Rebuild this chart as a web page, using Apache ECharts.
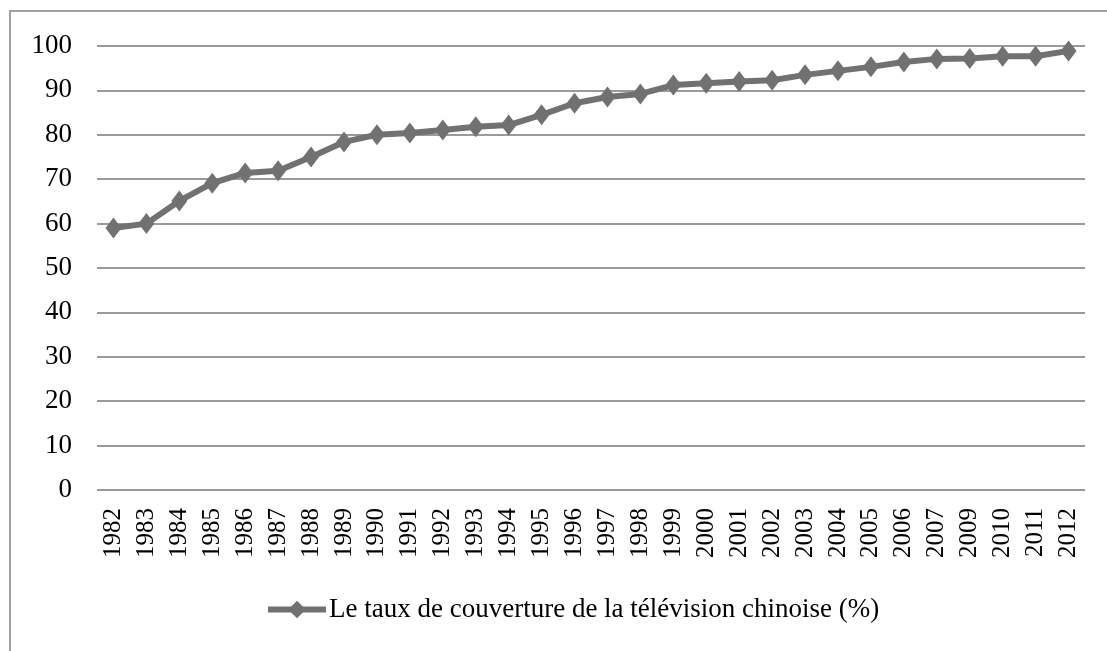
<!DOCTYPE html>
<html>
<head>
<meta charset="utf-8">
<script src="https://cdn.jsdelivr.net/npm/echarts@6/dist/echarts.min.js"></script>
<style>
  html, body { margin: 0; padding: 0; background: #fff; }
  #chart { width: 1107px; height: 651px; }
</style>
</head>
<body>
<div id="chart"></div>
<script>
  // years (2008 is missing in the source table)
  const years = ['1982', '1983', '1984', '1985', '1986', '1987', '1988', '1989', '1990', '1991',
    '1992', '1993', '1994', '1995', '1996', '1997', '1998', '1999', '2000', '2001',
    '2002', '2003', '2004', '2005', '2006', '2007', '2009', '2010', '2011', '2012']

  const coverage = [59.0, 60.0, 65.1, 69.1, 71.4, 71.9, 75.0, 78.4, 80.0, 80.4,
    81.1, 81.8, 82.2, 84.5, 87.1, 88.5, 89.2, 91.2, 91.6, 92.0,
    92.3, 93.5, 94.4, 95.3, 96.4, 97.1, 97.2, 97.7, 97.7, 98.9]

  const seriesName = 'Le taux de couverture de la télévision chinoise (%)'

  const serif = '"Liberation Serif", "DejaVu Serif", serif'

  let chart = echarts.init(document.getElementById('chart'))

  chart.setOption({
    animation: false,
    textStyle: {fontFamily: serif},
    graphic: [
      {
        type: 'polyline',
        shape: {points: [[10, 660], [10, 11], [1120, 11]]},
        style: {stroke: '#a0a0a0', lineWidth: 2, fill: null}
      }
    ],
    grid: {left: 97, right: 22, top: 46, bottom: 161},
    legend: {
      top: 596,
      left: 265,
      itemWidth: 58,
      itemHeight: 22,
      itemGap: 0,
      padding: 0,
      lineStyle: {width: 6},
      textStyle: {fontFamily: serif, fontSize: 27, color: '#000', padding: [0, 0, 0, -2]},
      data: [seriesName]
    },
    xAxis: {
      type: 'category',
      data: years,
      axisLine: {show: false},
      axisTick: {show: false},
      axisLabel: {
        interval: 0,
        rotate: 90,
        margin: 18,
        fontFamily: serif,
        fontSize: 25,
        color: '#000'
      }
    },
    yAxis: {
      type: 'value',
      min: 0,
      max: 100,
      interval: 10,
      axisLine: {show: false},
      axisTick: {show: false},
      axisLabel: {
        margin: 25,
        fontFamily: serif,
        fontSize: 27,
        color: '#000'
      },
      splitLine: {lineStyle: {color: '#9a9a9a', width: 2}}
    },
    series: [
      {
        name: seriesName,
        type: 'line',
        data: coverage,
        symbol: 'diamond',
        symbolSize: [16, 21],
        lineStyle: {color: '#717171', width: 6},
        itemStyle: {color: '#717171'}
      }
    ]
  })
</script>
</body>
</html>
